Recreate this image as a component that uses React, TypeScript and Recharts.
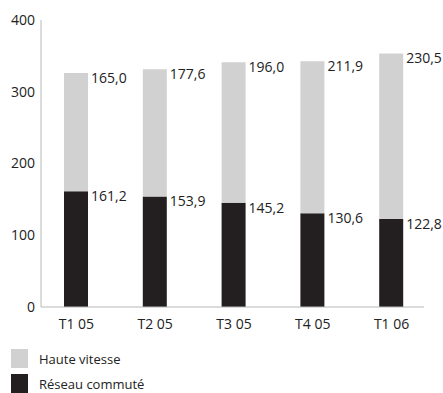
import { BarChart, Bar, XAxis, YAxis, LabelList } from "recharts";

const quarters = ["T1 05", "T2 05", "T3 05", "T4 05", "T1 06"];
const dialUp = [161.2, 153.9, 145.2, 130.6, 122.8];
const highSpeed = [165.0, 177.6, 196.0, 211.9, 230.5];
const yTicks = [0, 100, 200, 300, 400];

const DARK = "#231f20";
const LIGHT = "#d1d1d1";
const AXIS = "#b8b8b8";
const TEXT = "#222";
const FONT = "'Open Sans', sans-serif";

const data = quarters.map((q, i) => ({
  quarter: q,
  dialUp: dialUp[i],
  highSpeed: highSpeed[i],
}));

const fmt = (v: number) => v.toFixed(1).replace(".", ",");

function SegmentLabel(props: any) {
  const { x, y, width, value } = props;
  return (
    <text
      x={Number(x) + Number(width) + 3}
      y={Number(y) + 6}
      dominantBaseline="middle"
      fontSize={14}
      fontFamily={FONT}
      fill={TEXT}
    >
      {fmt(Number(value))}
    </text>
  );
}

const legendItems = [
  { label: "Haute vitesse", color: LIGHT },
  { label: "Réseau commuté", color: DARK },
];

export default function App() {
  return (
    <div
      style={{
        position: "absolute",
        left: 0,
        top: 0,
        width: 443,
        height: 393,
        background: "#fff",
        fontFamily: FONT,
      }}
    >
      <BarChart
        width={443}
        height={340}
        data={data}
        margin={{ top: 20, right: 19, left: 0, bottom: 3 }}
      >
        <XAxis
          dataKey="quarter"
          padding={{ left: -4, right: -7 }}
          stroke={AXIS}
          tickLine={false}
          tickSize={0}
          tickMargin={12}
          height={30}
          tick={{ fill: TEXT, fontSize: 14, fontFamily: FONT }}
        />
        <YAxis
          domain={[0, 400]}
          ticks={yTicks}
          width={41}
          stroke={AXIS}
          tickLine={false}
          tickSize={0}
          tickMargin={6}
          tick={{ fill: TEXT, fontSize: 14, fontFamily: FONT }}
        />
        <Bar
          dataKey="dialUp"
          stackId="a"
          fill={DARK}
          barSize={24}
          isAnimationActive={false}
        >
          <LabelList dataKey="dialUp" content={<SegmentLabel />} />
        </Bar>
        <Bar
          dataKey="highSpeed"
          stackId="a"
          fill={LIGHT}
          barSize={24}
          isAnimationActive={false}
        >
          <LabelList dataKey="highSpeed" content={<SegmentLabel />} />
        </Bar>
      </BarChart>
      <div style={{ position: "absolute", left: 11, top: 346 }}>
        {legendItems.map((item) => (
          <div
            key={item.label}
            style={{
              display: "flex",
              alignItems: "center",
              height: 25,
              fontSize: 13,
              lineHeight: "18px",
              color: TEXT,
            }}
          >
            <span
              style={{
                width: 17,
                height: 19,
                background: item.color,
                marginRight: 11,
                display: "inline-block",
              }}
            />
            {item.label}
          </div>
        ))}
      </div>
    </div>
  );
}
